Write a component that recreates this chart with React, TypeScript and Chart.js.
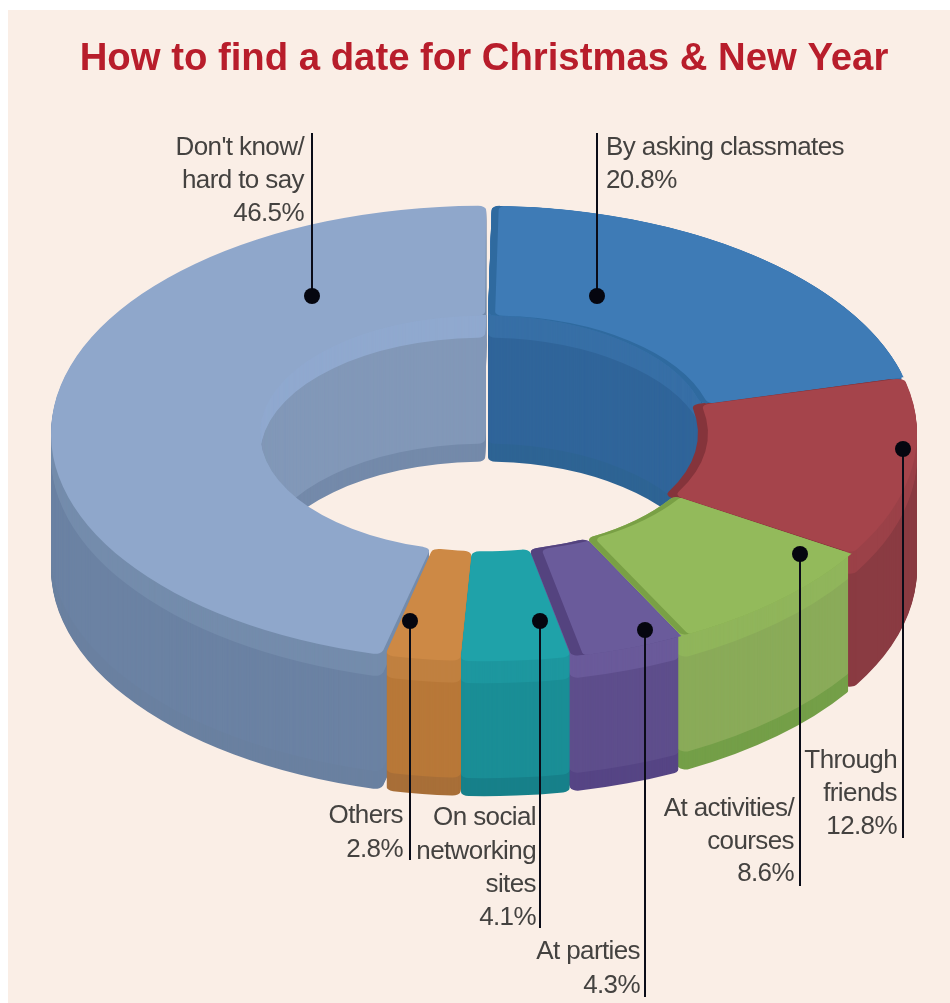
import React, { useEffect, useRef } from "react";
import { Chart, registerables, ArcElement } from "chart.js";

Chart.register(...registerables);

const TITLE = "How to find a date for Christmas & New Year";
const categories = [
  "By asking classmates",
  "Through friends",
  "At activities/courses",
  "At parties",
  "On social networking sites",
  "Others",
  "Don't know/hard to say",
];
const shares = [20.8, 12.8, 8.6, 4.3, 4.1, 2.8, 46.5];

const faceColors = ["#3e7bb6", "#a5444b", "#93ba5b", "#6a5b9b", "#1fa2a9", "#cd8945", "#8fa7cb"];
// Outer wall, from the rim down: upper band, body, lower lip
const wallUpper = ["#376fa6", "#9b4148", "#90b55b", "#6a5a9a", "#1d979f", "#c08040", "#748cac"];
const wallBody = ["#30659a", "#8a3b42", "#8aab59", "#5e4e8c", "#1a8e96", "#b87838", "#6b82a3"];
const wallLip = ["#2e6494", "#8a3b42", "#749f48", "#564585", "#17808a", "#a86f38", "#6a80a0"];
// Wall of the hole, far side
const holeUpper = ["#376fa6", "#8a3b42", "#8aab59", "#5e4e8c", "#1a8e96", "#b87838", "#90a9cf"];
const holeBody = ["#30659a", "#8a3b42", "#8aab59", "#5e4e8c", "#1a8e96", "#b87838", "#8298b8"];
const holeLip = ["#2e6494", "#8a3b42", "#749f48", "#564585", "#17808a", "#a86f38", "#748aaa"];
// Dark crescent under the red slice where it meets the hole
const UNDER_INDEX = 1;
const UNDER_COLOR = "#85343b";
const UNDER_REACH = -10;
// Cut faces laid over a slice's left-hand edge: colour and width
const edgeColors = ["#2f6a9f", "", "#79a045", "#54437f", "", "", ""];
const edgeWidths = [7, 0, 8, 12, 0, 0, 0];

const SQUASH = 0.526;
const DEPTH = 135;
const HOLE_DEPTH = 146;
const UPPER_BAND = 22;
const LIP_BAND = 18;

type Callout = { x: number; dotY: number; endY: number; side: "left" | "right"; textX: number; lines: string[]; lineYs: number[] };

const callouts: Callout[] = [
  { x: 597, dotY: 296, endY: 133, side: "left", textX: 606, lines: ["By asking classmates", "20.8%"], lineYs: [148, 181] },
  { x: 312, dotY: 296, endY: 133, side: "right", textX: 304, lines: ["Don't know/", "hard to say", "46.5%"], lineYs: [148, 181, 214] },
  { x: 903, dotY: 449, endY: 838, side: "right", textX: 897, lines: ["Through", "friends", "12.8%"], lineYs: [761, 794, 827] },
  { x: 800, dotY: 554, endY: 886, side: "right", textX: 794, lines: ["At activities/", "courses", "8.6%"], lineYs: [809, 842, 874] },
  { x: 645, dotY: 630, endY: 997, side: "right", textX: 640, lines: ["At parties", "4.3%"], lineYs: [952, 986] },
  { x: 540, dotY: 621, endY: 928, side: "right", textX: 536, lines: ["On social", "networking", "sites", "4.1%"], lineYs: [818, 852, 885, 918] },
  { x: 410, dotY: 621, endY: 860, side: "right", textX: 403, lines: ["Others", "2.8%"], lineYs: [816, 850] },
];

// Paints one arc with a replacement fill, leaving the chart's own element untouched
function paintArc(ctx: CanvasRenderingContext2D, arc: any, fill: string) {
  const copy = Object.create(arc);
  copy.options = { ...arc.options, backgroundColor: fill, borderWidth: 0 };
  ArcElement.prototype.draw.call(copy, ctx);
}

function extrude(
  ctx: CanvasRenderingContext2D,
  arc: any,
  depth: number,
  upper: string,
  body: string,
  lip: string,
) {
  for (let d = depth; d >= 1; d -= 1) {
    const fill = d <= UPPER_BAND ? upper : d > depth - LIP_BAND ? lip : body;
    ctx.save();
    ctx.translate(0, d / SQUASH);
    paintArc(ctx, arc, fill);
    ctx.restore();
  }
}

const ringPlugin = {
  id: "ring3d",
  beforeDraw(chart: any) {
    const { ctx, width, height } = chart;
    ctx.save();
    ctx.fillStyle = "#ffffff";
    ctx.fillRect(0, 0, width, height);
    ctx.fillStyle = "#faeee6";
    ctx.fillRect(8, 10, width - 8, height - 10);
    ctx.restore();
  },
  beforeDatasetDraw(chart: any, args: any) {
    const ctx = chart.ctx;
    const arcs: any[] = args.meta.data;
    const { x: cx, y: cy, innerRadius } = arcs[0];
    ctx.save();
    ctx.translate(cx, cy);
    ctx.scale(1, SQUASH);
    ctx.translate(-cx, -cy);

    // Farthest slices first so nearer walls overlap them
    const order = arcs
      .map((arc, i) => ({ i, arc, far: Math.sin((arc.startAngle + arc.endAngle) / 2) }))
      .sort((a, b) => a.far - b.far);
    order.forEach(({ arc, i }) => extrude(ctx, arc, DEPTH, wallUpper[i], wallBody[i], wallLip[i]));

    // The hole shows its own, separately shaded wall
    ctx.save();
    ctx.beginPath();
    ctx.arc(cx, cy, innerRadius + 3, 0, Math.PI * 2);
    ctx.clip();
    order.forEach(({ arc, i }) => extrude(ctx, arc, HOLE_DEPTH, holeUpper[i], holeBody[i], holeLip[i]));
    ctx.restore();

    ctx.save();
    ctx.translate(UNDER_REACH, 0);
    paintArc(ctx, arcs[UNDER_INDEX], UNDER_COLOR);
    ctx.restore();
  },
  afterDatasetDraw(chart: any, args: any) {
    const ctx = chart.ctx;
    const arcs: any[] = args.meta.data;
    // Re-lay a slice shifted right inside its own sector, leaving a cut face on its left
    arcs.forEach((arc, i) => {
      if (!edgeWidths[i]) return;
      const { x: cx, y: cy, innerRadius, outerRadius, startAngle, endAngle } = arc;
      ctx.save();
      ctx.beginPath();
      ctx.moveTo(cx, cy);
      ctx.arc(cx, cy, outerRadius * 3, startAngle, endAngle);
      ctx.closePath();
      ctx.clip();
      ctx.beginPath();
      ctx.arc(cx, cy, outerRadius + 2, 0, Math.PI * 2);
      ctx.arc(cx, cy, innerRadius, 0, Math.PI * 2);
      ctx.clip("evenodd");
      paintArc(ctx, arc, edgeColors[i]);
      ctx.translate(edgeWidths[i], 0);
      paintArc(ctx, arc, faceColors[i]);
      ctx.restore();
    });
    ctx.restore();
  },
  afterDraw(chart: any) {
    const ctx = chart.ctx;
    ctx.save();
    callouts.forEach((c) => {
      ctx.strokeStyle = "#0a0c18";
      ctx.lineWidth = 2;
      ctx.beginPath();
      ctx.moveTo(c.x, c.dotY);
      ctx.lineTo(c.x, c.endY);
      ctx.stroke();
      ctx.fillStyle = "#05060f";
      ctx.beginPath();
      ctx.arc(c.x, c.dotY, 8, 0, Math.PI * 2);
      ctx.fill();
      ctx.fillStyle = "#444240";
      ctx.font = '26px "Liberation Sans"';
      ctx.letterSpacing = "-0.6px";
      ctx.textAlign = c.side === "left" ? "left" : "right";
      ctx.textBaseline = "middle";
      c.lines.forEach((line, k) => ctx.fillText(line, c.textX, c.lineYs[k]));
    });
    ctx.restore();
  },
};

export default function App() {
  const ref = useRef<HTMLCanvasElement | null>(null);
  useEffect(() => {
    if (!ref.current) return;
    const chart = new Chart(ref.current, {
      type: "doughnut",
      data: {
        labels: categories,
        datasets: [
          {
            data: shares,
            backgroundColor: faceColors,
            borderWidth: 0,
            spacing: 4,
            borderRadius: 8,
            clip: false,
          } as any,
        ],
      },
      options: {
        responsive: false,
        animation: false,
        radius: 431,
        cutout: "51.5%",
        rotation: 0.8,
        events: [],
        layout: { padding: { left: 18, right: 0, top: 0, bottom: 228 } },
        plugins: {
          legend: { display: false },
          tooltip: { enabled: false },
          title: {
            display: true,
            text: TITLE,
            color: "#b81d2b",
            font: { family: '"Liberation Sans"', size: 38.3, weight: "bold", lineHeight: 1.2 },
            padding: { top: 36, bottom: 10 },
          },
        },
      } as any,
      plugins: [ringPlugin],
    });
    return () => chart.destroy();
  }, []);
  return (
    <canvas
      ref={ref}
      width={950}
      height={1003}
      style={{ position: "absolute", left: 0, top: 0, display: "block" }}
    />
  );
}
